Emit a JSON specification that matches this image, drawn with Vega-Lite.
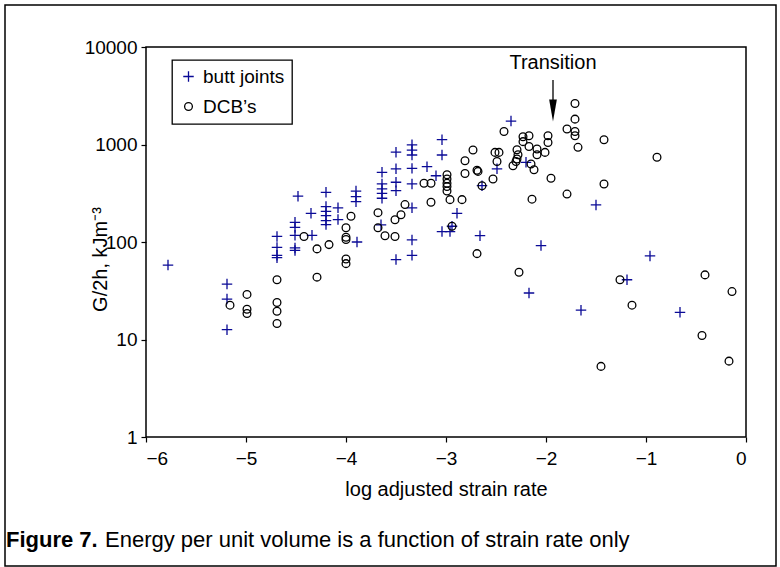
{
  "$schema": "https://vega.github.io/schema/vega-lite/v6.json",
  "width": 600,
  "height": 390,
  "autosize": {"type": "none"},
  "padding": {"left": 146, "top": 47, "right": 34, "bottom": 130},
  "background": "white",
  "config": {
    "font": "Liberation Sans",
    "view": {"stroke": "black", "strokeWidth": 1.5},
    "axis": {"grid": false, "domain": false, "tickColor": "black", "tickWidth": 1.2, "tickSize": 5, "labelColor": "black", "titleColor": "black", "labelFontSize": 19, "titleFontSize": 20, "titleFontWeight": "normal", "labelFont": "Liberation Sans", "titleFont": "Liberation Sans"},
    "legend": {"orient": "none", "legendX": 26, "legendY": 13, "strokeColor": "black", "strokeWidth": 1.3, "padding": 7, "labelFontSize": 19, "labelFont": "Liberation Sans", "labelColor": "black", "symbolStrokeWidth": 1.3, "symbolSize": 80, "rowPadding": 10, "labelOffset": 5}
  },
  "datasets": {
    "pts": [
      {"series": "butt joints", "x": -5.78, "g": 58},
      {"series": "butt joints", "x": -5.19, "g": 37},
      {"series": "butt joints", "x": -5.19, "g": 26},
      {"series": "butt joints", "x": -5.19, "g": 12.6},
      {"series": "butt joints", "x": -4.69, "g": 114},
      {"series": "butt joints", "x": -4.69, "g": 88},
      {"series": "butt joints", "x": -4.69, "g": 73},
      {"series": "butt joints", "x": -4.69, "g": 69},
      {"series": "butt joints", "x": -4.51, "g": 117},
      {"series": "butt joints", "x": -4.51, "g": 87},
      {"series": "butt joints", "x": -4.51, "g": 82},
      {"series": "butt joints", "x": -4.34, "g": 117},
      {"series": "butt joints", "x": -4.48, "g": 295},
      {"series": "butt joints", "x": -4.20, "g": 323},
      {"series": "butt joints", "x": -4.35, "g": 197},
      {"series": "butt joints", "x": -4.20, "g": 231},
      {"series": "butt joints", "x": -4.20, "g": 206},
      {"series": "butt joints", "x": -4.20, "g": 186},
      {"series": "butt joints", "x": -4.20, "g": 166},
      {"series": "butt joints", "x": -4.20, "g": 151},
      {"series": "butt joints", "x": -4.51, "g": 159},
      {"series": "butt joints", "x": -4.51, "g": 141},
      {"series": "butt joints", "x": -4.08, "g": 224},
      {"series": "butt joints", "x": -4.08, "g": 170},
      {"series": "butt joints", "x": -3.90, "g": 333},
      {"series": "butt joints", "x": -3.90, "g": 292},
      {"series": "butt joints", "x": -3.90, "g": 259},
      {"series": "butt joints", "x": -3.89, "g": 100},
      {"series": "butt joints", "x": -3.64, "g": 518},
      {"series": "butt joints", "x": -3.64, "g": 394},
      {"series": "butt joints", "x": -3.64, "g": 350},
      {"series": "butt joints", "x": -3.64, "g": 316},
      {"series": "butt joints", "x": -3.64, "g": 281},
      {"series": "butt joints", "x": -3.65, "g": 150},
      {"series": "butt joints", "x": -3.50, "g": 834},
      {"series": "butt joints", "x": -3.50, "g": 563},
      {"series": "butt joints", "x": -3.50, "g": 410},
      {"series": "butt joints", "x": -3.50, "g": 336},
      {"series": "butt joints", "x": -3.50, "g": 66},
      {"series": "butt joints", "x": -3.34, "g": 993},
      {"series": "butt joints", "x": -3.34, "g": 877},
      {"series": "butt joints", "x": -3.34, "g": 780},
      {"series": "butt joints", "x": -3.34, "g": 569},
      {"series": "butt joints", "x": -3.34, "g": 394},
      {"series": "butt joints", "x": -3.34, "g": 224},
      {"series": "butt joints", "x": -3.34, "g": 105},
      {"series": "butt joints", "x": -3.34, "g": 73},
      {"series": "butt joints", "x": -3.19, "g": 592},
      {"series": "butt joints", "x": -3.10, "g": 478},
      {"series": "butt joints", "x": -3.04, "g": 1120},
      {"series": "butt joints", "x": -3.04, "g": 780},
      {"series": "butt joints", "x": -3.04, "g": 128},
      {"series": "butt joints", "x": -2.96, "g": 128},
      {"series": "butt joints", "x": -2.94, "g": 145},
      {"series": "butt joints", "x": -2.89, "g": 197},
      {"series": "butt joints", "x": -2.64, "g": 378},
      {"series": "butt joints", "x": -2.66, "g": 116},
      {"series": "butt joints", "x": -2.49, "g": 563},
      {"series": "butt joints", "x": -2.35, "g": 1740},
      {"series": "butt joints", "x": -2.20, "g": 656},
      {"series": "butt joints", "x": -2.17, "g": 30},
      {"series": "butt joints", "x": -2.05, "g": 92},
      {"series": "butt joints", "x": -1.50, "g": 240},
      {"series": "butt joints", "x": -1.65, "g": 20},
      {"series": "butt joints", "x": -1.19, "g": 41},
      {"series": "butt joints", "x": -0.96, "g": 72},
      {"series": "butt joints", "x": -0.66, "g": 19},
      {"series": "DCB’s", "x": -5.16, "g": 22.5},
      {"series": "DCB’s", "x": -4.99, "g": 29},
      {"series": "DCB’s", "x": -4.99, "g": 20.4},
      {"series": "DCB’s", "x": -4.99, "g": 18.5},
      {"series": "DCB’s", "x": -4.69, "g": 41},
      {"series": "DCB’s", "x": -4.69, "g": 24},
      {"series": "DCB’s", "x": -4.69, "g": 19.5},
      {"series": "DCB’s", "x": -4.69, "g": 14.6},
      {"series": "DCB’s", "x": -4.29, "g": 43.6},
      {"series": "DCB’s", "x": -4.42, "g": 114},
      {"series": "DCB’s", "x": -4.29, "g": 85},
      {"series": "DCB’s", "x": -4.17, "g": 94},
      {"series": "DCB’s", "x": -4.00, "g": 140},
      {"series": "DCB’s", "x": -4.00, "g": 112},
      {"series": "DCB’s", "x": -4.00, "g": 106},
      {"series": "DCB’s", "x": -4.00, "g": 67},
      {"series": "DCB’s", "x": -4.00, "g": 60},
      {"series": "DCB’s", "x": -3.95, "g": 184},
      {"series": "DCB’s", "x": -3.68, "g": 200},
      {"series": "DCB’s", "x": -3.68, "g": 140},
      {"series": "DCB’s", "x": -3.61, "g": 116},
      {"series": "DCB’s", "x": -3.51, "g": 114},
      {"series": "DCB’s", "x": -3.51, "g": 169},
      {"series": "DCB’s", "x": -3.45, "g": 190},
      {"series": "DCB’s", "x": -3.41, "g": 242},
      {"series": "DCB’s", "x": -3.22, "g": 400},
      {"series": "DCB’s", "x": -3.15, "g": 400},
      {"series": "DCB’s", "x": -3.15, "g": 256},
      {"series": "DCB’s", "x": -2.99, "g": 490},
      {"series": "DCB’s", "x": -2.99, "g": 443},
      {"series": "DCB’s", "x": -2.99, "g": 400},
      {"series": "DCB’s", "x": -2.99, "g": 370},
      {"series": "DCB’s", "x": -2.99, "g": 333},
      {"series": "DCB’s", "x": -2.96, "g": 272},
      {"series": "DCB’s", "x": -2.94, "g": 145},
      {"series": "DCB’s", "x": -2.84, "g": 272},
      {"series": "DCB’s", "x": -2.81, "g": 682},
      {"series": "DCB’s", "x": -2.81, "g": 505},
      {"series": "DCB’s", "x": -2.73, "g": 877},
      {"series": "DCB’s", "x": -2.69, "g": 545},
      {"series": "DCB’s", "x": -2.68, "g": 530},
      {"series": "DCB’s", "x": -2.69, "g": 76},
      {"series": "DCB’s", "x": -2.64, "g": 378},
      {"series": "DCB’s", "x": -2.53, "g": 443},
      {"series": "DCB’s", "x": -2.51, "g": 830},
      {"series": "DCB’s", "x": -2.47, "g": 830},
      {"series": "DCB’s", "x": -2.49, "g": 670},
      {"series": "DCB’s", "x": -2.42, "g": 1360},
      {"series": "DCB’s", "x": -2.33, "g": 605},
      {"series": "DCB’s", "x": -2.29, "g": 883},
      {"series": "DCB’s", "x": -2.28, "g": 785},
      {"series": "DCB’s", "x": -2.29, "g": 710},
      {"series": "DCB’s", "x": -2.30, "g": 670},
      {"series": "DCB’s", "x": -2.23, "g": 1200},
      {"series": "DCB’s", "x": -2.23, "g": 1070},
      {"series": "DCB’s", "x": -2.17, "g": 1230},
      {"series": "DCB’s", "x": -2.17, "g": 955},
      {"series": "DCB’s", "x": -2.15, "g": 630},
      {"series": "DCB’s", "x": -2.12, "g": 550},
      {"series": "DCB’s", "x": -2.09, "g": 900},
      {"series": "DCB’s", "x": -2.09, "g": 785},
      {"series": "DCB’s", "x": -2.01, "g": 830},
      {"series": "DCB’s", "x": -1.98, "g": 1230},
      {"series": "DCB’s", "x": -1.98, "g": 1050},
      {"series": "DCB’s", "x": -1.95, "g": 450},
      {"series": "DCB’s", "x": -2.14, "g": 275},
      {"series": "DCB’s", "x": -2.27, "g": 49},
      {"series": "DCB’s", "x": -1.79, "g": 1440},
      {"series": "DCB’s", "x": -1.79, "g": 310},
      {"series": "DCB’s", "x": -1.71, "g": 2630},
      {"series": "DCB’s", "x": -1.71, "g": 1820},
      {"series": "DCB’s", "x": -1.71, "g": 1360},
      {"series": "DCB’s", "x": -1.71, "g": 1230},
      {"series": "DCB’s", "x": -1.68, "g": 935},
      {"series": "DCB’s", "x": -1.42, "g": 1120},
      {"series": "DCB’s", "x": -1.42, "g": 394},
      {"series": "DCB’s", "x": -1.26, "g": 41},
      {"series": "DCB’s", "x": -1.14, "g": 22.5},
      {"series": "DCB’s", "x": -0.89, "g": 740},
      {"series": "DCB’s", "x": -0.41, "g": 46},
      {"series": "DCB’s", "x": -0.14, "g": 31},
      {"series": "DCB’s", "x": -0.44, "g": 11},
      {"series": "DCB’s", "x": -0.17, "g": 6},
      {"series": "DCB’s", "x": -1.45, "g": 5.3}
    ],
    "one": [{"k": 1}]
  },
  "layer": [
    {
      "data": {"name": "pts"},
      "mark": {"type": "point", "filled": false, "strokeWidth": 1.3, "opacity": 1},
      "encoding": {
        "x": {"field": "x", "type": "quantitative", "scale": {"domain": [-6, 0], "nice": false, "zero": false}, "axis": {"values": [-6, -5, -4, -3, -2, -1, 0], "format": "d", "title": "log adjusted strain rate", "labelPadding": 7, "titlePadding": 11}},
        "y": {"field": "g", "type": "quantitative", "scale": {"type": "log", "domain": [1, 10000], "nice": false}, "axis": {"values": [1, 10, 100, 1000, 10000], "format": "d", "title": "G/2h, kJm⁻³", "labelPadding": 4, "titleX": -46, "titleY": 212, "titleBaseline": "middle", "titleAngle": -90}},
        "shape": {"field": "series", "type": "nominal", "scale": {"domain": ["butt joints", "DCB’s"], "range": ["M-1,0H1M0,-1V1", "circle"]}, "legend": {"title": null}},
        "color": {"field": "series", "type": "nominal", "scale": {"domain": ["butt joints", "DCB’s"], "range": ["#0a0a96", "#000000"]}, "legend": {"title": null}},
        "size": {"field": "series", "type": "nominal", "scale": {"domain": ["butt joints", "DCB’s"], "range": [110, 60]}, "legend": null}
      }
    },
    {
      "data": {"name": "one"},
      "mark": {"type": "text", "fontSize": 20, "font": "Liberation Sans", "baseline": "bottom", "align": "center", "color": "black"},
      "encoding": {"x": {"datum": -1.93}, "y": {"datum": 5400}, "text": {"value": "Transition"}}
    },
    {
      "data": {"name": "one"},
      "mark": {"type": "rule", "color": "black", "strokeWidth": 1.3},
      "encoding": {"x": {"datum": -1.93}, "y": {"datum": 4600}, "y2": {"datum": 2300}}
    },
    {
      "data": {"name": "one"},
      "mark": {"type": "point", "filled": true, "color": "black", "shape": "M-0.35,-1L0.35,-1L0,1Z", "size": 484, "opacity": 1},
      "encoding": {"x": {"datum": -1.93}, "y": {"datum": 2230}}
    },
    {
      "data": {"name": "one"},
      "mark": {"type": "text", "fontSize": 22, "font": "Liberation Sans", "fontWeight": "bold", "align": "left", "baseline": "middle", "color": "black"},
      "encoding": {"x": {"datum": -7.4}, "y": {"datum": 0.088}, "text": {"value": "Figure 7."}}
    },
    {
      "data": {"name": "one"},
      "mark": {"type": "text", "fontSize": 22, "font": "Liberation Sans", "align": "left", "baseline": "middle", "color": "black"},
      "encoding": {"x": {"datum": -6.41}, "y": {"datum": 0.088}, "text": {"value": "Energy per unit volume is a function of strain rate only"}}
    },
    {
      "data": {"name": "one"},
      "mark": {"type": "rect", "filled": false, "stroke": "black", "strokeWidth": 1.5},
      "encoding": {"x": {"datum": -7.41}, "x2": {"datum": 0.30}, "y": {"datum": 26900}, "y2": {"datum": 0.0475}}
    }
  ]
}
